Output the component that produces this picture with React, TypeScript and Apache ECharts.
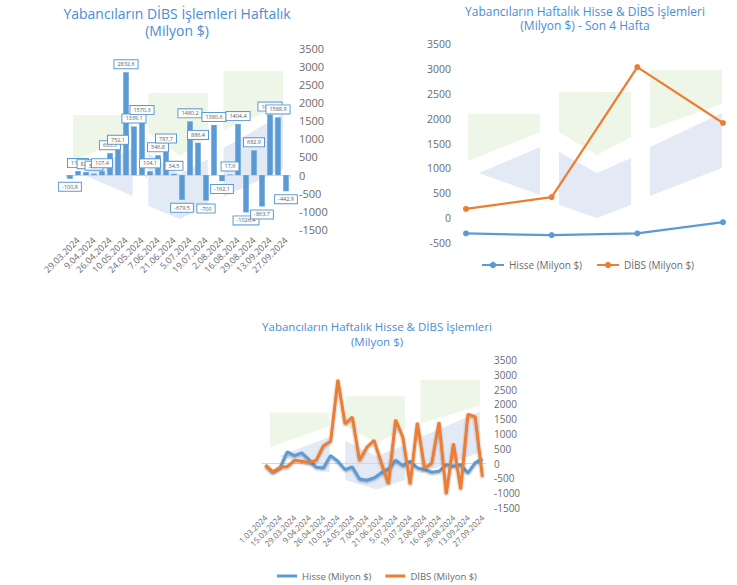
import React, { useEffect, useRef } from "react";
import * as echarts from "echarts";

// ---- Data ----
const weeksEarly = ["1.03.2024", "8.03.2024", "15.03.2024"];
const weeksTop = [
  "22.03.2024", "29.03.2024", "5.04.2024", "9.04.2024", "19.04.2024", "26.04.2024", "3.05.2024",
  "10.05.2024", "17.05.2024", "24.05.2024", "31.05.2024", "7.06.2024", "14.06.2024", "21.06.2024",
  "28.06.2024", "5.07.2024", "12.07.2024", "19.07.2024", "26.07.2024", "2.08.2024", "9.08.2024",
  "16.08.2024", "23.08.2024", "29.08.2024", "6.09.2024", "13.09.2024", "20.09.2024", "27.09.2024",
];
const dibsWeekly = [
  -100.8, 110.2, 82.1, 39.2, 107.4, 603.5, 752.1, 2832.6, 1339.1, 1570.3, 104.1, 546.8, 787.7, 34.5,
  -679.5, 1480.2, 886.4, -700, 1380.6, -162.1, 17.6, 1404.4, -1026.4, 682.9, -863.7, 1666.6, 1588.9, -442.9,
];
const dibsEarly = [-50, -280, -120];
const hisseWeekly = [
  -56, -293, -146, 394, 270, 360, 135, -124, -146, 270, 79, -203, -113, -518, -563, -484, -315, -180,
  113, -68, 79, -146, -203, -293, -259, -34, -90, -34, -315, 23, 158,
];
const son4Labels = ["6.09.2024", "13.09.2024", "20.09.2024", "27.09.2024"];
const son4Hisse = [-313, -347, -313, -87];
const son4Dibs = [180, 420, 3040, 1913];

const BLUE = "#5b9bd5";
const ORANGE = "#ed7d31";
const TITLE = "#4a8cd6";
const GREY = "#6b6b6b";
const FONT = "Open Sans";

// logo watermark (shape in reference box coordinates)
const logoShapes: { pts: number[][]; c: string }[] = [
  { pts: [[468, 114], [540, 114], [540, 132], [468, 161]], c: "#eef6e8" },
  { pts: [[479, 173], [540, 147], [540, 195]], c: "#e3eaf5" },
  { pts: [[559, 92], [631, 92], [631, 137], [597, 155], [559, 132]], c: "#eef6e8" },
  { pts: [[559, 152], [597, 173], [631, 158], [631, 205], [597, 218], [559, 205]], c: "#e3eaf5" },
  { pts: [[650, 70], [722, 70], [722, 104], [650, 129]], c: "#eef6e8" },
  { pts: [[650, 147], [722, 113], [722, 168], [650, 196]], c: "#e3eaf5" },
];

function logo(X0: number, Y0: number, sx: number, sy: number) {
  return logoShapes.map((s) => ({
    type: "polygon",
    silent: true,
    z: -10,
    shape: { points: s.pts.map(([x, y]) => [X0 + (x - 468) * sx, Y0 + (y - 70) * sy]) },
    style: { fill: s.c },
  }));
}

const fmt = (v: number) => (Number.isInteger(v) ? String(v) : v.toFixed(1).replace(".", ","));
const plain = (v: number) => String(v);

export default function App() {
  const ref = useRef<HTMLDivElement>(null);
  useEffect(() => {
    if (!ref.current) return;
    const chart = echarts.init(ref.current, null, { renderer: "svg" });
    const weeksAll = [...weeksEarly, ...weeksTop];
    const dibsAll = [...dibsEarly, ...dibsWeekly];
    const lineShadow = { shadowColor: "rgba(0,0,0,0.35)", shadowBlur: 2, shadowOffsetY: 1 };
    const option: any = {
      animation: false,
      textStyle: { fontFamily: FONT },
      graphic: [...logo(73, 71, 0.827, 1.0), ...logo(468, 70, 1, 1), ...logo(270, 380, 0.827, 0.74)],
      title: [
        {
          text: "Yabancıların DİBS İşlemleri Haftalık\n(Milyon $)",
          left: 172, top: 0, textAlign: "center",
          textStyle: { color: TITLE, fontSize: 14, fontWeight: "normal", lineHeight: 17, fontFamily: FONT },
        },
        {
          text: "Yabancıların Haftalık Hisse & DİBS İşlemleri\n(Milyon $) - Son 4 Hafta",
          left: 580, top: -1, textAlign: "center",
          textStyle: { color: TITLE, fontSize: 12, fontWeight: "normal", lineHeight: 14.5, fontFamily: FONT },
        },
        {
          text: "Yabancıların Haftalık Hisse & DİBS İşlemleri\n(Milyon $)",
          left: 372, top: 314, textAlign: "center",
          textStyle: { color: TITLE, fontSize: 11.5, fontWeight: "normal", lineHeight: 15, fontFamily: FONT },
        },
      ],
      legend: [
        {
          data: ["Hisse (Milyon $)", "DİBS (Milyon $)"],
          left: 476, top: 255, itemWidth: 22, itemHeight: 8, itemGap: 14,
          textStyle: { fontSize: 10, color: GREY, fontFamily: FONT },
        },
        {
          data: [
            { name: "Hisse (Milyon $)", icon: "rect" },
            { name: "DİBS (Milyon $)", icon: "rect" },
          ],
          left: 272, top: 566, itemWidth: 20, itemHeight: 3, itemGap: 14,
          textStyle: { fontSize: 9.5, color: GREY, fontFamily: FONT },
        },
      ],
      grid: [
        { left: 66, right: 447, top: 48, bottom: 355.4, outerBoundsMode: "none" },
        { left: 466, right: 14, top: 44.3, bottom: 342.3, outerBoundsMode: "none" },
        { left: 262, right: 251, top: 360, bottom: 77, outerBoundsMode: "none" },
      ],
      xAxis: [
        {
          gridIndex: 0, type: "category", data: weeksTop, position: "bottom",
          axisLine: { show: false, onZero: false }, axisTick: { show: false },
          axisLabel: { rotate: 45, interval: (i: number) => i % 2 === 1, fontSize: 9, color: GREY, margin: 9, fontFamily: FONT },
        },
        {
          gridIndex: 0, type: "category", data: weeksTop, position: "top",
          axisLine: { show: true, onZero: true, lineStyle: { color: "#d9d9d9", width: 1 } },
          axisTick: { show: true, inside: true, length: 3, lineStyle: { color: "#d9d9d9" } },
          axisLabel: { show: false },
        },
        { gridIndex: 1, type: "category", data: son4Labels, boundaryGap: false, show: false },
        {
          gridIndex: 2, type: "category", data: weeksAll, position: "bottom",
          axisLine: { show: false, onZero: false }, axisTick: { show: false },
          axisLabel: { rotate: 45, interval: 1, fontSize: 8, color: GREY, margin: 8, fontFamily: FONT },
        },
        {
          gridIndex: 2, type: "category", data: weeksAll, position: "top",
          axisLine: { show: true, onZero: true, lineStyle: { color: "#d9d9d9", width: 1 } },
          axisTick: { show: false }, axisLabel: { show: false },
        },
      ],
      yAxis: [
        {
          gridIndex: 0, type: "value", position: "right", min: -1500, max: 3500, interval: 500,
          splitLine: { show: false }, axisLine: { show: false }, axisTick: { show: false },
          axisLabel: { fontSize: 11, color: GREY, margin: 9, fontFamily: FONT, formatter: plain },
        },
        {
          gridIndex: 1, type: "value", position: "left", min: -500, max: 3500, interval: 500,
          splitLine: { show: false }, axisLine: { show: false }, axisTick: { show: false },
          axisLabel: { fontSize: 10.5, color: GREY, margin: 15, fontFamily: FONT, formatter: plain },
        },
        {
          gridIndex: 2, type: "value", position: "right", min: -1500, max: 3500, interval: 500,
          splitLine: { show: false }, axisLine: { show: false }, axisTick: { show: false },
          axisLabel: { fontSize: 10, color: GREY, margin: 8, fontFamily: FONT, formatter: plain },
        },
      ],
      series: [
        {
          type: "bar", name: "DİBS Haftalık", xAxisIndex: 0, yAxisIndex: 0, barWidth: 5.5,
          itemStyle: { color: BLUE },
          data: dibsWeekly.map((v) => ({ value: v, label: { position: v < 0 ? "bottom" : "top" } })),
          label: {
            show: true, formatter: (p: any) => fmt(p.value), fontSize: 5.5, color: "#595959",
            backgroundColor: "#fff", borderColor: BLUE, borderWidth: 1, padding: [1, 3], distance: 4,
            fontFamily: FONT,
          },
        },
        {
          type: "line", name: "Hisse (Milyon $)", xAxisIndex: 2, yAxisIndex: 1, data: son4Hisse,
          symbol: "circle", symbolSize: 6, lineStyle: { color: BLUE, width: 2.25 }, itemStyle: { color: BLUE },
        },
        {
          type: "line", name: "DİBS (Milyon $)", xAxisIndex: 2, yAxisIndex: 1, data: son4Dibs,
          symbol: "circle", symbolSize: 6, lineStyle: { color: ORANGE, width: 2.25 }, itemStyle: { color: ORANGE },
        },
        {
          type: "line", name: "Hisse (Milyon $)", xAxisIndex: 3, yAxisIndex: 2, data: hisseWeekly,
          symbol: "none", lineStyle: { color: BLUE, width: 3, ...lineShadow }, itemStyle: { color: BLUE },
        },
        {
          type: "line", name: "DİBS (Milyon $)", xAxisIndex: 3, yAxisIndex: 2, data: dibsAll,
          symbol: "none", lineStyle: { color: ORANGE, width: 3, ...lineShadow }, itemStyle: { color: ORANGE },
        },
      ],
    };
    chart.setOption(option);
    return () => chart.dispose();
  }, []);
  return (
    <div
      ref={ref}
      style={{ position: "absolute", left: 0, top: 0, width: 737, height: 585, background: "#fff" }}
    />
  );
}
